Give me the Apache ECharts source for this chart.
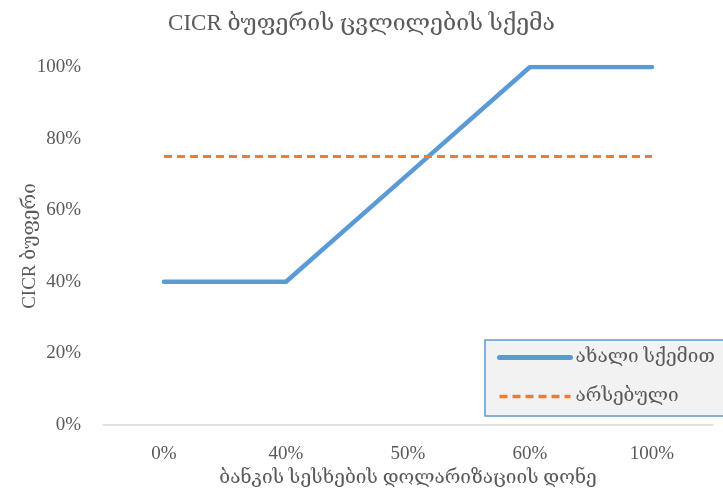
<!DOCTYPE html>
<html>
<head>
<meta charset="utf-8">
<script src="https://cdn.jsdelivr.net/npm/echarts@6/dist/echarts.min.js"></script>
<style>
  html, body { margin: 0; padding: 0; background: #fff; }
  #chart { width: 723px; height: 493px; }
</style>
</head>
<body>
<div id="chart"></div>
<script>
// Dollarization level of bank loans (x) and CICR buffer (y), in percent
const categories = ['0%', '40%', '50%', '60%', '100%'];
const newScheme = [40, 40, 70, 100, 100];
const existing = [75, 75, 75, 75, 75];
const yTicks = [0, 20, 40, 60, 80, 100];

const FONT = '"Liberation Serif", "DejaVu Serif", "Noto Sans", serif';
const TEXT = '#595959';
const BLUE = '#5b9bd5';
const ORANGE = '#ed7d31';

const chart = echarts.init(document.getElementById('chart'));
chart.setOption({
  backgroundColor: '#ffffff',
  animation: false,
  title: {
    text: 'CICR ბუფერის ცვლილების სქემა',
    left: 'center',
    top: 7,
    textStyle: { fontFamily: FONT, fontSize: 23, fontWeight: 'normal', color: TEXT }
  },
  grid: { left: 103, right: 10, top: 67, bottom: 68 },
  legend: {
    orient: 'vertical',
    left: 485,
    top: 340,
    padding: [8, 12, 10, 12],
    itemGap: 20,
    itemWidth: 71,
    itemHeight: 20,
    backgroundColor: '#f2f2f2',
    borderColor: BLUE,
    borderWidth: 1.5,
    itemStyle: { opacity: 0 },
    textStyle: { fontFamily: FONT, fontSize: 19, color: TEXT, width: 140 },
    data: [
      { name: 'ახალი სქემით', lineStyle: { color: BLUE, width: 5, cap: 'round' } },
      { name: 'არსებული', lineStyle: { color: ORANGE, width: 3.5, type: [8, 5] } }
    ]
  },
  xAxis: {
    type: 'category',
    data: categories,
    boundaryGap: true,
    name: 'ბანკის სესხების დოლარიზაციის დონე',
    nameLocation: 'middle',
    nameGap: 33,
    nameTextStyle: { fontFamily: FONT, fontSize: 19, color: TEXT },
    axisLine: { lineStyle: { color: '#d9d9d9', width: 1.5 } },
    axisTick: { show: false },
    axisLabel: { fontFamily: FONT, fontSize: 19, color: TEXT, margin: 20 }
  },
  yAxis: {
    type: 'value',
    min: yTicks[0],
    max: yTicks[yTicks.length - 1],
    interval: 20,
    name: 'CICR ბუფერი',
    nameLocation: 'middle',
    nameGap: 63,
    nameMoveOverlap: false,
    nameRotate: 90,
    nameTextStyle: { fontFamily: FONT, fontSize: 19, color: TEXT },
    axisLine: { show: false },
    axisTick: { show: false },
    splitLine: { show: false },
    axisLabel: { fontFamily: FONT, fontSize: 19, color: TEXT, margin: 22, formatter: '{value}%' }
  },
  series: [
    {
      name: 'ახალი სქემით',
      type: 'line',
      data: newScheme,
      symbol: 'none',
      color: BLUE,
      lineStyle: { color: BLUE, width: 4.5, cap: 'round', join: 'round' }
    },
    {
      name: 'არსებული',
      type: 'line',
      data: existing,
      symbol: 'none',
      color: ORANGE,
      lineStyle: { color: ORANGE, width: 3, type: [8, 5] }
    }
  ]
});
</script>
</body>
</html>
